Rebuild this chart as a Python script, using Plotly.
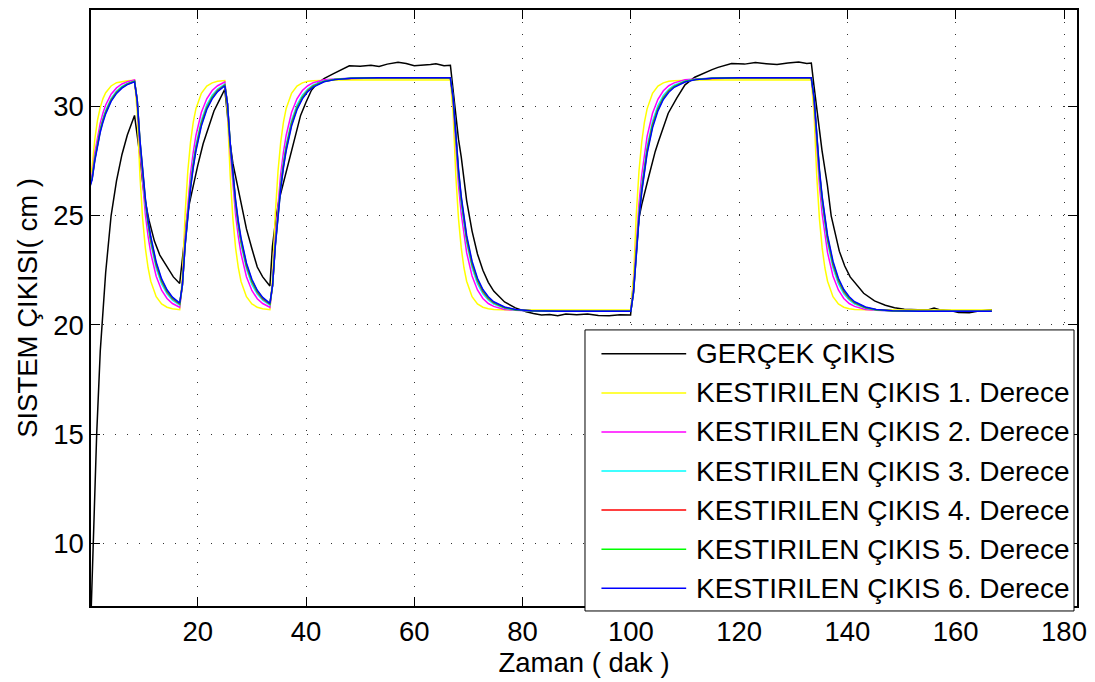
import plotly.graph_objects as go

# ---- measured tank level (minutes, cm) ----
t_real = [
    0.33, 0.8, 1.34, 2.0, 2.5, 3.0, 4.0, 5.0, 6.0, 7.0, 8.33,
    8.8, 9.3, 9.8, 10.2, 11.0, 12.0, 13.0, 14.5, 15.5, 16.67,
    17.0, 17.5, 18.0, 18.5, 19.0, 20.0, 21.0, 22.0, 23.0, 24.0, 25.0,
    25.5, 26.0, 26.5, 27.0, 27.7, 28.0, 29.0, 30.0, 31.0, 32.0, 33.33,
    33.8, 34.5, 35.0, 36.0, 37.0, 38.0, 39.0, 40.0, 41.0, 42.0, 43.4, 45.0, 46.5,
    48.0, 50.0, 52.0, 53.5, 55.0, 57.0, 58.5, 60.0, 61.5, 63.0, 64.0, 65.5, 66.67,
    67.17, 67.67, 68.17, 68.67, 69.67, 70.67, 71.67, 72.67, 73.67, 74.67, 76.67,
    78.67, 80.67, 82.0, 83.5, 85.0, 86.5, 88.0, 90.0, 92.0, 94.0, 96.0, 98.0, 99.95,
    100.5, 101.0, 101.5, 102.0, 103.2, 104.0, 104.5, 105.1, 106.0, 106.9, 108.5,
    110.0, 111.8, 113.1, 115.0, 116.1, 118.6, 121.0, 123.0, 125.0, 127.0, 129.0,
    131.0, 132.5, 133.33,
    133.8, 134.3, 134.8, 135.3, 136.3, 137.0, 138.5, 139.5, 140.5, 141.6, 143.0,
    145.0, 147.0, 148.7, 150.5, 153.0, 155.0, 156.0, 157.0, 159.0, 160.5, 162.5,
    164.0, 166.0, 166.67,
]
y_real = [
    7.0, 10.8, 15.0, 18.8, 20.8, 22.4, 25.0, 26.6, 27.8, 28.7, 29.6,
    28.8, 27.8, 26.6, 25.8, 24.8, 23.84, 23.2, 22.6, 22.2, 21.9,
    22.7, 23.9, 24.9, 25.6, 26.2, 27.3, 28.3, 29.1, 29.8, 30.3, 30.8,
    29.6, 28.3, 27.4, 26.8, 26.0, 25.7, 24.4, 23.5, 22.65, 22.2, 21.78,
    23.6, 25.0, 25.7, 26.7, 27.6, 28.7, 29.6, 30.2, 30.75, 31.05, 31.3, 31.5, 31.7,
    31.87, 31.85, 31.9, 31.84, 31.95, 32.03, 31.98, 31.88, 31.9, 31.93, 31.97, 31.88, 31.9,
    30.7, 29.5, 28.5, 27.7, 25.7, 24.3, 23.25, 22.5, 21.95, 21.55, 21.05,
    20.78, 20.6, 20.52, 20.45, 20.48, 20.42, 20.5, 20.47, 20.5, 20.43, 20.42, 20.46, 20.45,
    21.9, 23.4, 24.9, 25.5, 26.7, 27.5, 27.95, 28.4, 29.1, 29.7, 30.4,
    31.0, 31.35, 31.5, 31.7, 31.8, 31.98, 31.95, 32.02, 31.97, 31.93, 32.0,
    32.05, 31.98, 32.0,
    31.0, 29.9, 28.9, 28.0, 26.4, 25.0, 23.38, 22.7, 22.2, 21.86, 21.45,
    21.1, 20.9, 20.79, 20.72, 20.7, 20.7, 20.77, 20.7, 20.66, 20.57, 20.56,
    20.63, 20.68, 20.7,
]

# ---- model outputs, shared time base (minutes) ----
t_est = [
    0, 0.5, 1, 1.5, 2, 2.5, 3, 4, 5, 6, 7,
    8.33, 8.83, 9.33, 9.83, 10.33, 10.83, 11.33, 12.33, 13.33, 14.33, 15.33,
    16.67, 17.17, 17.67, 18.17, 18.67, 19.17, 19.67, 20.67, 21.67, 22.67, 23.67,
    25, 25.5, 26, 26.5, 27, 27.5, 28, 29, 30, 31, 32,
    33.33, 33.83, 34.33, 34.83, 35.33, 35.83, 36.33, 37.33, 38.33, 39.33, 40.33,
    41.33, 43.33, 45.33, 48.33, 53.33, 58.33,
    66.67, 67.17, 67.67, 68.17, 68.67, 69.17, 69.67, 70.67, 71.67, 72.67, 73.67,
    74.67, 76.67, 78.67, 81.67, 86.67, 91.67,
    100, 100.5, 101, 101.5, 102, 102.5, 103, 104, 105, 106, 107,
    108, 110, 112, 115, 120, 125,
    133.33, 133.83, 134.33, 134.83, 135.33, 135.83, 136.33, 137.33, 138.33, 139.33, 140.33,
    141.33, 143.33, 145.33, 148.33, 153.33, 158.33,
    166.67,
]

y_order1 = [
    26.60, 27.26, 28.52, 29.39, 29.97, 30.37, 30.64, 30.95, 31.10, 31.16, 31.19,
    31.21, 29.70, 26.83, 24.86, 23.52, 22.62, 22.00, 21.29, 20.96, 20.81, 20.74,
    20.70, 22.20, 25.08, 27.04, 28.38, 29.28, 29.91, 30.61, 30.94, 31.09, 31.16,
    31.20, 29.70, 26.82, 24.86, 23.52, 22.62, 21.99, 21.29, 20.96, 20.81, 20.74,
    20.70, 22.20, 25.08, 27.04, 28.38, 29.28, 29.91, 30.61, 30.94, 31.09, 31.16,
    31.19, 31.22, 31.22, 31.22, 31.22, 31.22,
    31.22, 29.71, 26.84, 24.86, 23.53, 22.62, 22.00, 21.29, 20.96, 20.81, 20.74,
    20.71, 20.68, 20.68, 20.68, 20.68, 20.68,
    20.68, 22.19, 25.06, 27.04, 28.37, 29.28, 29.90, 30.61, 30.94, 31.09, 31.16,
    31.19, 31.22, 31.22, 31.22, 31.22, 31.22,
    31.22, 29.71, 26.84, 24.86, 23.53, 22.62, 22.00, 21.29, 20.96, 20.81, 20.74,
    20.71, 20.68, 20.68, 20.68, 20.68, 20.68,
    20.68,
]
y_order2 = [
    26.40, 26.88, 27.88, 28.65, 29.25, 29.71, 30.08, 30.57, 30.86, 31.04, 31.14,
    31.22, 30.18, 28.03, 26.35, 25.06, 24.07, 23.29, 22.23, 21.59, 21.21, 20.98,
    20.81, 21.84, 23.98, 25.64, 26.92, 27.90, 28.68, 29.73, 30.36, 30.74, 30.96,
    31.13, 30.10, 27.96, 26.31, 25.03, 24.04, 23.26, 22.21, 21.58, 21.20, 20.98,
    20.81, 21.84, 23.98, 25.64, 26.92, 27.90, 28.68, 29.73, 30.36, 30.74, 30.96,
    31.10, 31.23, 31.27, 31.30, 31.30, 31.30,
    31.30, 30.26, 28.08, 26.40, 25.10, 24.09, 23.31, 22.24, 21.60, 21.21, 20.98,
    20.85, 20.71, 20.67, 20.64, 20.64, 20.64,
    20.64, 21.68, 23.86, 25.54, 26.84, 27.85, 28.64, 29.70, 30.34, 30.73, 30.96,
    31.09, 31.23, 31.27, 31.30, 31.30, 31.30,
    31.30, 30.26, 28.08, 26.40, 25.10, 24.09, 23.31, 22.24, 21.60, 21.21, 20.98,
    20.85, 20.71, 20.67, 20.64, 20.64, 20.64,
    20.64,
]
y_order3 = [
    26.30, 26.74, 27.67, 28.40, 29.00, 29.47, 29.84, 30.38, 30.72, 30.93, 31.07,
    31.18, 30.26, 28.30, 26.75, 25.50, 24.51, 23.72, 22.59, 21.88, 21.42, 21.13,
    20.90, 21.81, 23.74, 25.27, 26.50, 27.48, 28.26, 29.37, 30.08, 30.53, 30.81,
    31.04, 30.13, 28.20, 26.67, 25.44, 24.46, 23.68, 22.57, 21.86, 21.41, 21.13,
    20.90, 21.81, 23.74, 25.27, 26.50, 27.48, 28.26, 29.37, 30.08, 30.53, 30.81,
    31.00, 31.18, 31.26, 31.30, 31.31, 31.31,
    31.31, 30.38, 28.39, 26.82, 25.56, 24.56, 23.76, 22.62, 21.89, 21.43, 21.14,
    20.95, 20.76, 20.68, 20.64, 20.63, 20.63,
    20.63, 21.56, 23.55, 25.12, 26.38, 27.38, 28.18, 29.32, 30.05, 30.51, 30.80,
    30.99, 31.18, 31.26, 31.30, 31.31, 31.31,
    31.31, 30.38, 28.39, 26.82, 25.56, 24.56, 23.76, 22.62, 21.89, 21.43, 21.14,
    20.95, 20.76, 20.68, 20.64, 20.63, 20.63,
    20.63,
]
y_order4 = [
    26.30, 26.72, 27.61, 28.33, 28.92, 29.39, 29.76, 30.31, 30.66, 30.89, 31.04,
    31.16, 30.29, 28.40, 26.89, 25.66, 24.67, 23.88, 22.74, 22.00, 21.51, 21.20,
    20.95, 21.81, 23.66, 25.16, 26.36, 27.33, 28.11, 29.24, 29.96, 30.44, 30.75,
    30.99, 30.13, 28.28, 26.78, 25.58, 24.61, 23.83, 22.70, 21.98, 21.50, 21.19,
    20.95, 21.81, 23.66, 25.16, 26.36, 27.33, 28.11, 29.24, 29.96, 30.44, 30.75,
    30.95, 31.16, 31.25, 31.29, 31.31, 31.31,
    31.31, 30.42, 28.51, 26.97, 25.74, 24.73, 23.93, 22.77, 22.02, 21.53, 21.21,
    21.01, 20.79, 20.70, 20.65, 20.63, 20.63,
    20.63, 21.52, 23.43, 24.97, 26.21, 27.21, 28.01, 29.17, 29.92, 30.41, 30.73,
    30.93, 31.15, 31.24, 31.29, 31.31, 31.31,
    31.31, 30.42, 28.51, 26.97, 25.74, 24.73, 23.93, 22.77, 22.02, 21.53, 21.21,
    21.01, 20.79, 20.70, 20.65, 20.63, 20.63,
    20.63,
]
y_order5 = [
    26.30, 26.71, 27.60, 28.31, 28.89, 29.35, 29.73, 30.28, 30.64, 30.88, 31.03,
    31.16, 30.30, 28.44, 26.95, 25.74, 24.76, 23.97, 22.81, 22.05, 21.56, 21.24,
    20.98, 21.83, 23.65, 25.12, 26.31, 27.27, 28.04, 29.18, 29.92, 30.41, 30.72,
    30.98, 30.13, 28.31, 26.84, 25.65, 24.69, 23.91, 22.77, 22.03, 21.55, 21.23,
    20.97, 21.82, 23.64, 25.11, 26.30, 27.26, 28.04, 29.18, 29.92, 30.41, 30.72,
    30.93, 31.15, 31.25, 31.30, 31.32, 31.32,
    31.32, 30.44, 28.56, 27.04, 25.82, 24.82, 24.02, 22.84, 22.07, 21.58, 21.25,
    21.03, 20.80, 20.70, 20.65, 20.63, 20.63,
    20.63, 21.51, 23.39, 24.91, 26.14, 27.13, 27.93, 29.11, 29.88, 30.38, 30.70,
    30.92, 31.15, 31.25, 31.30, 31.32, 31.32,
    31.32, 30.44, 28.56, 27.04, 25.82, 24.82, 24.02, 22.84, 22.07, 21.58, 21.25,
    21.03, 20.80, 20.70, 20.65, 20.63, 20.63,
    20.63,
]
y_order6 = [
    26.25, 26.66, 27.53, 28.24, 28.83, 29.29, 29.67, 30.24, 30.61, 30.85, 31.01,
    31.14, 30.30, 28.48, 27.01, 25.80, 24.83, 24.05, 22.88, 22.11, 21.61, 21.27,
    21.00, 21.83, 23.61, 25.06, 26.24, 27.19, 27.97, 29.11, 29.87, 30.36, 30.69,
    30.96, 30.13, 28.35, 26.90, 25.71, 24.76, 23.99, 22.84, 22.09, 21.59, 21.26,
    20.99, 21.82, 23.60, 25.05, 26.24, 27.19, 27.96, 29.11, 29.86, 30.36, 30.69,
    30.90, 31.14, 31.24, 31.30, 31.32, 31.32,
    31.32, 30.47, 28.62, 27.12, 25.89, 24.91, 24.10, 22.92, 22.14, 21.62, 21.29,
    21.06, 20.82, 20.71, 20.65, 20.63, 20.63,
    20.63, 21.49, 23.34, 24.83, 26.06, 27.04, 27.85, 29.03, 29.81, 30.33, 30.66,
    30.89, 31.13, 31.24, 31.30, 31.32, 31.32,
    31.32, 30.47, 28.62, 27.12, 25.89, 24.91, 24.10, 22.92, 22.14, 21.62, 21.29,
    21.06, 20.82, 20.71, 20.65, 20.63, 20.63,
    20.63,
]

series_names = [
    "GERÇEK ÇIKIS",
    "KESTIRILEN ÇIKIS 1. Derece",
    "KESTIRILEN ÇIKIS 2. Derece",
    "KESTIRILEN ÇIKIS 3. Derece",
    "KESTIRILEN ÇIKIS 4. Derece",
    "KESTIRILEN ÇIKIS 5. Derece",
    "KESTIRILEN ÇIKIS 6. Derece",
]
series_colors = ["#000000", "#ffff00", "#ff00ff", "#00ffff", "#ff0000", "#00ff00", "#0000ff"]

x_ticks = [20, 40, 60, 80, 100, 120, 140, 160, 180]
y_ticks = [10, 15, 20, 25, 30]

FONT = "Liberation Sans, Arial, Helvetica, sans-serif"
FS = 27.5
FS_LEG = 28

W, H = 1095, 682
ML, MR, MT, MB = 91, 15, 8, 76

xs = [t_real] + [t_est] * 6
ys = [y_real, y_order1, y_order2, y_order3, y_order4, y_order5, y_order6]

fig = go.Figure()
for x, y, name, col in zip(xs, ys, series_names, series_colors):
    fig.add_trace(go.Scatter(x=x, y=y, mode="lines", name=name,
                             line=dict(color=col, width=1.5), showlegend=False))

axis_common = dict(
    showline=True, linecolor="black", linewidth=1.5, mirror="ticks",
    ticks="inside", ticklen=9, tickwidth=1, tickcolor="black",
    showgrid=True, gridcolor="#333333", gridwidth=1, griddash="1px,11px",
    zeroline=False, tickfont=dict(family=FONT, size=FS, color="black"),
)

fig.update_xaxes(range=[0.29, 182.4], tickvals=x_ticks,
                 title=dict(text="Zaman ( dak )", font=dict(family=FONT, size=FS), standoff=6),
                 **axis_common)
fig.update_yaxes(range=[7.12, 34.43], tickvals=y_ticks,
                 title=dict(text="SISTEM ÇIKISI( cm )", font=dict(family=FONT, size=FS), standoff=8),
                 **axis_common)

# legend box drawn in paper space, positioned in figure pixels
PW, PH = W - ML - MR, H - MT - MB


def px_x(p):
    return (p - ML) / PW


def px_y(p):
    return (H - MB - p) / PH


shapes = [dict(type="rect", xref="paper", yref="paper",
               x0=px_x(586.5), x1=px_x(1077), y0=px_y(611), y1=px_y(329),
               fillcolor="white", line=dict(color="black", width=1), layer="above")]
annotations = []
row0, row_step = 353, 39.2
for i, (name, col) in enumerate(zip(series_names, series_colors)):
    yc = px_y(row0 + i * row_step)
    shapes.append(dict(type="line", xref="paper", yref="paper",
                       x0=px_x(603), x1=px_x(688), y0=yc, y1=yc,
                       line=dict(color=col, width=1.5), layer="above"))
    annotations.append(dict(xref="paper", yref="paper", x=px_x(696), y=yc,
                            xanchor="left", yanchor="middle", text=name, showarrow=False,
                            font=dict(family=FONT, size=FS_LEG, color="black")))

fig.update_layout(
    width=W, height=H,
    margin=dict(l=ML, r=MR, t=MT, b=MB),
    paper_bgcolor="white", plot_bgcolor="white",
    font=dict(family=FONT, size=FS, color="black"),
    showlegend=False,
    shapes=shapes, annotations=annotations,
)

fig.write_html("out.html")
